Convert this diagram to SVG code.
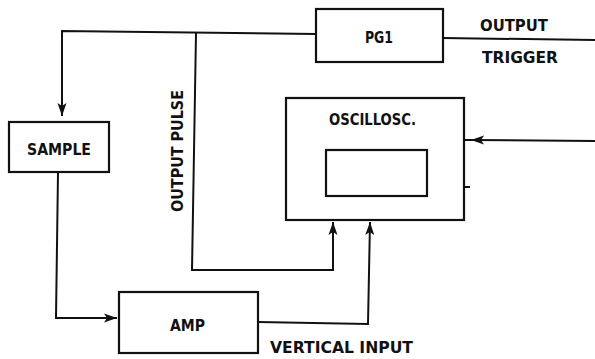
<svg xmlns="http://www.w3.org/2000/svg" width="595" height="359" viewBox="0 0 595 359">
<style>
.box{fill:none;stroke:#111;stroke-width:2.2}
.ln{fill:none;stroke:#111;stroke-width:2}
.t{font-family:"DejaVu Sans Condensed","Liberation Sans",Arial,sans-serif;font-weight:bold;font-size:16px;fill:#111}
</style>
<defs>
<marker id="ah" markerWidth="14" markerHeight="10" refX="13" refY="5" orient="auto" markerUnits="userSpaceOnUse">
<path d="M0,0.5 L13,5 L0,9.5 L3,5 Z" fill="#111"/>
</marker>
</defs>
<rect width="595" height="359" fill="#fff"/>
<g id="connectors">
<path class="ln" d="M316,34 L62,31 L62,116" marker-end="url(#ah)"/>
<path class="ln" d="M196,33 L192,270 L333,270 L333,222" marker-end="url(#ah)"/>
<path class="ln" d="M443,38 L595,40"/>
<path class="ln" d="M595,141 L471,140" marker-end="url(#ah)"/>
<path class="ln" d="M472,140 L464,140"/>
<path class="ln" d="M464,187 L470,187"/>
<path class="ln" d="M58,173 L56,318 L117,318" marker-end="url(#ah)"/>
<path class="ln" d="M258,322 L368,324 L370,222" marker-end="url(#ah)"/>
</g>
<g id="pg1">
<rect class="box" x="316" y="9" width="127" height="53"/>
<text class="t" x="365" y="43" textLength="28" lengthAdjust="spacingAndGlyphs">PG1</text>
</g>
<g id="sample">
<rect class="box" x="9" y="122" width="100" height="50"/>
<text class="t" x="27" y="155" textLength="64" lengthAdjust="spacingAndGlyphs">SAMPLE</text>
</g>
<g id="oscillosc">
<rect class="box" x="286" y="98" width="178" height="122"/>
<text class="t" x="329" y="125" textLength="87" lengthAdjust="spacingAndGlyphs">OSCILLOSC.</text>
<rect class="box" x="326" y="150" width="101" height="46"/>
</g>
<g id="amp">
<rect class="box" x="119" y="292" width="139" height="61"/>
<text class="t" x="170" y="331" textLength="35" lengthAdjust="spacingAndGlyphs">AMP</text>
</g>
<g id="labels">
<text class="t" x="480" y="31" textLength="68" lengthAdjust="spacingAndGlyphs">OUTPUT</text>
<text class="t" x="482" y="63" textLength="76" lengthAdjust="spacingAndGlyphs">TRIGGER</text>
<text class="t" x="270" y="353" textLength="143" lengthAdjust="spacingAndGlyphs">VERTICAL INPUT</text>
<text class="t" transform="translate(183,212) rotate(-90)" x="0" y="0" textLength="122" lengthAdjust="spacingAndGlyphs">OUTPUT PULSE</text>
</g>
</svg>
